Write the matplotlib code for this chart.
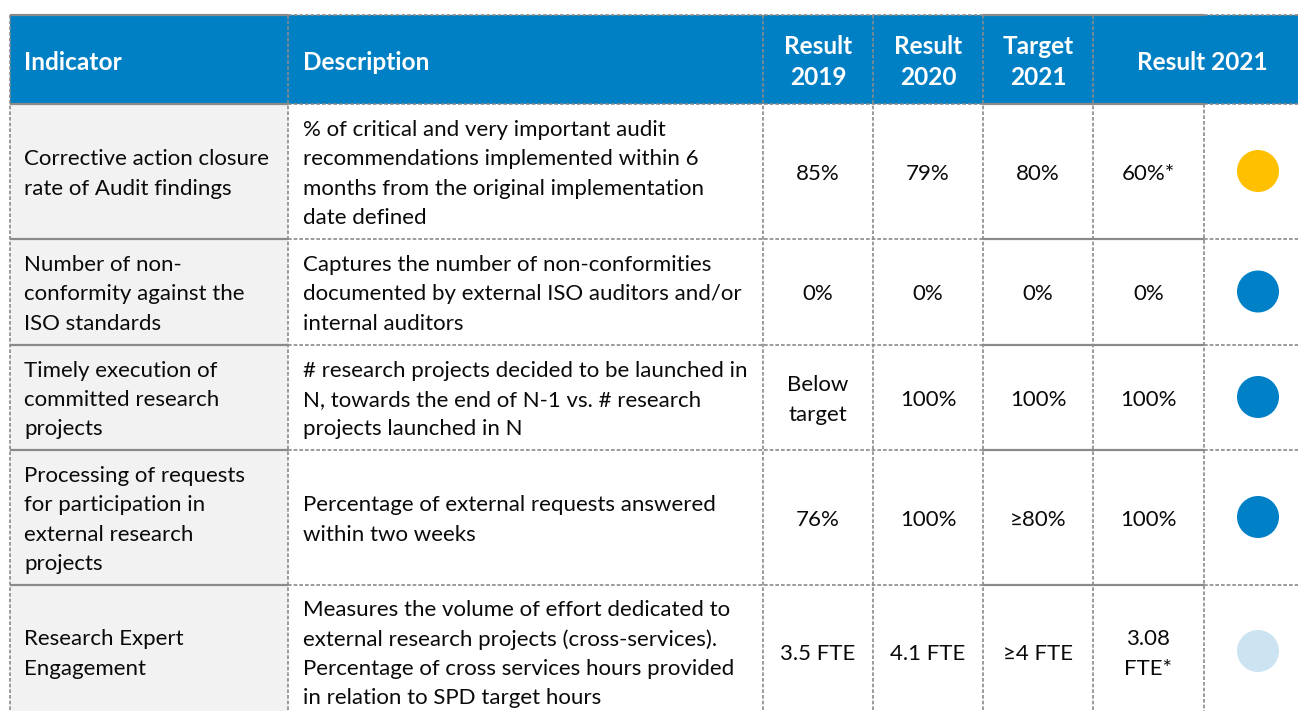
import matplotlib
matplotlib.use("Agg")
import matplotlib.pyplot as plt
from matplotlib.patches import Rectangle, Circle

# ---------------- data ----------------
headers = ["Indicator", "Description", "Result\n2019", "Result\n2020", "Target\n2021", "Result 2021"]
indicators = [
    "Corrective action closure\nrate of Audit findings",
    "Number of non-\nconformity against the\nISO standards",
    "Timely execution of\ncommitted research\nprojects",
    "Processing of requests\nfor participation in\nexternal research\nprojects",
    "Research Expert\nEngagement",
]
descriptions = [
    "% of critical and very important audit\nrecommendations implemented within 6\nmonths from the original implementation\ndate defined",
    "Captures the number of non-conformities\ndocumented by external ISO auditors and/or\ninternal auditors",
    "# research projects decided to be launched in\nN, towards the end of N-1 vs. # research\nprojects launched in N",
    "Percentage of external requests answered\nwithin two weeks",
    "Measures the volume of effort dedicated to\nexternal research projects (cross-services).\nPercentage of cross services hours provided\nin relation to SPD target hours",
]
result_2019 = ["85%", "0%", "Below\ntarget", "76%", "3.5 FTE"]
result_2020 = ["79%", "0%", "100%", "100%", "4.1 FTE"]
target_2021 = ["80%", "0%", "100%", "\u226580%", "\u22654 FTE"]
result_2021 = ["60%*", "0%", "100%", "100%", "3.08\nFTE*"]
status = ["amber", "blue", "blue", "blue", "light"]

# ---------------- style ----------------
status_colors = {"amber": "#FFC000", "blue": "#0080C6", "light": "#CCE4F2"}
header_bg = "#0080C4"
ind_bg = "#F2F2F2"
line_col = "#8A8A8A"
txt_col = "#0A0A0A"
font = ["Lato", "DejaVu Sans"]
fs = 16.0
hfs = 17.6

W, H = 1298, 711
fig = plt.figure(figsize=(W / 100, H / 100), dpi=100)
ax = fig.add_axes([0, 0, 1, 1])
ax.set_xlim(0, W)
ax.set_ylim(H, 0)
ax.axis("off")

col_x = [10, 288, 763, 873, 983, 1093, 1204, 1312]
row_y = [15, 104, 239, 345, 450, 585, 722]

# backgrounds
ax.add_patch(Rectangle((col_x[0], row_y[0]), col_x[-1] - col_x[0], row_y[1] - row_y[0],
                       facecolor=header_bg, edgecolor="none", zorder=0))
ax.add_patch(Rectangle((col_x[0], row_y[1]), col_x[1] - col_x[0], row_y[-1] - row_y[1],
                       facecolor=ind_bg, edgecolor="none", zorder=0))

# horizontal lines
solid_segments = [(col_x[0], col_x[1]), (col_x[4], col_x[6])]
dashed_segments = [(col_x[1], col_x[4]), (col_x[6], col_x[-1])]
for y in row_y[:-1]:
    for a, b in solid_segments:
        ax.plot([a, b], [y, y], color=line_col, lw=1.6, solid_capstyle="butt", zorder=2)
    for a, b in dashed_segments:
        ax.plot([a, b], [y, y], color=line_col, lw=1.2, dashes=(2.2, 1.2), zorder=2)

# vertical lines
for i, x in enumerate(col_x[:-1]):
    top = row_y[1] if i == 6 else row_y[0]
    ax.plot([x, x], [top, row_y[-1]], color=line_col, lw=1.2, dashes=(2.2, 1.2), zorder=2)

# header text
hy = (row_y[0] + row_y[1]) / 2 + 2.5
ax.text(24, hy, headers[0], color="white", fontsize=hfs, fontweight="bold", family=font,
        ha="left", va="center")
ax.text(303, hy, headers[1], color="white", fontsize=hfs, fontweight="bold", family=font,
        ha="left", va="center")
for j, h in enumerate(headers[2:5]):
    cx = (col_x[2 + j] + col_x[3 + j]) / 2
    ax.text(cx, hy, h, color="white", fontsize=hfs, fontweight="bold", family=font,
            ha="center", va="center", linespacing=1.45)
ax.text((col_x[5] + col_x[7]) / 2, hy, headers[5], color="white", fontsize=hfs,
        fontweight="bold", family=font, ha="center", va="center")

# body
ls = 1.575
for r in range(len(indicators)):
    cy = (row_y[r + 1] + row_y[r + 2]) / 2 + 2.5
    if r == len(indicators) - 1:
        cy = 654
    ax.text(24, cy, indicators[r], fontsize=fs, family=font, ha="left", va="center",
            linespacing=ls, color=txt_col)
    ax.text(303, cy, descriptions[r], fontsize=fs, family=font, ha="left", va="center",
            linespacing=ls, color=txt_col)
    for j, vals in enumerate([result_2019, result_2020, target_2021, result_2021]):
        cx = (col_x[2 + j] + col_x[3 + j]) / 2
        ax.text(cx, cy, vals[r], fontsize=fs, family=font, ha="center", va="center",
                linespacing=ls, color=txt_col)
    dx = 1258
    ax.add_patch(Circle((dx, cy - 3), 21, facecolor=status_colors[status[r]],
                        edgecolor="none", zorder=3))

fig.savefig("out.png", dpi=100)
